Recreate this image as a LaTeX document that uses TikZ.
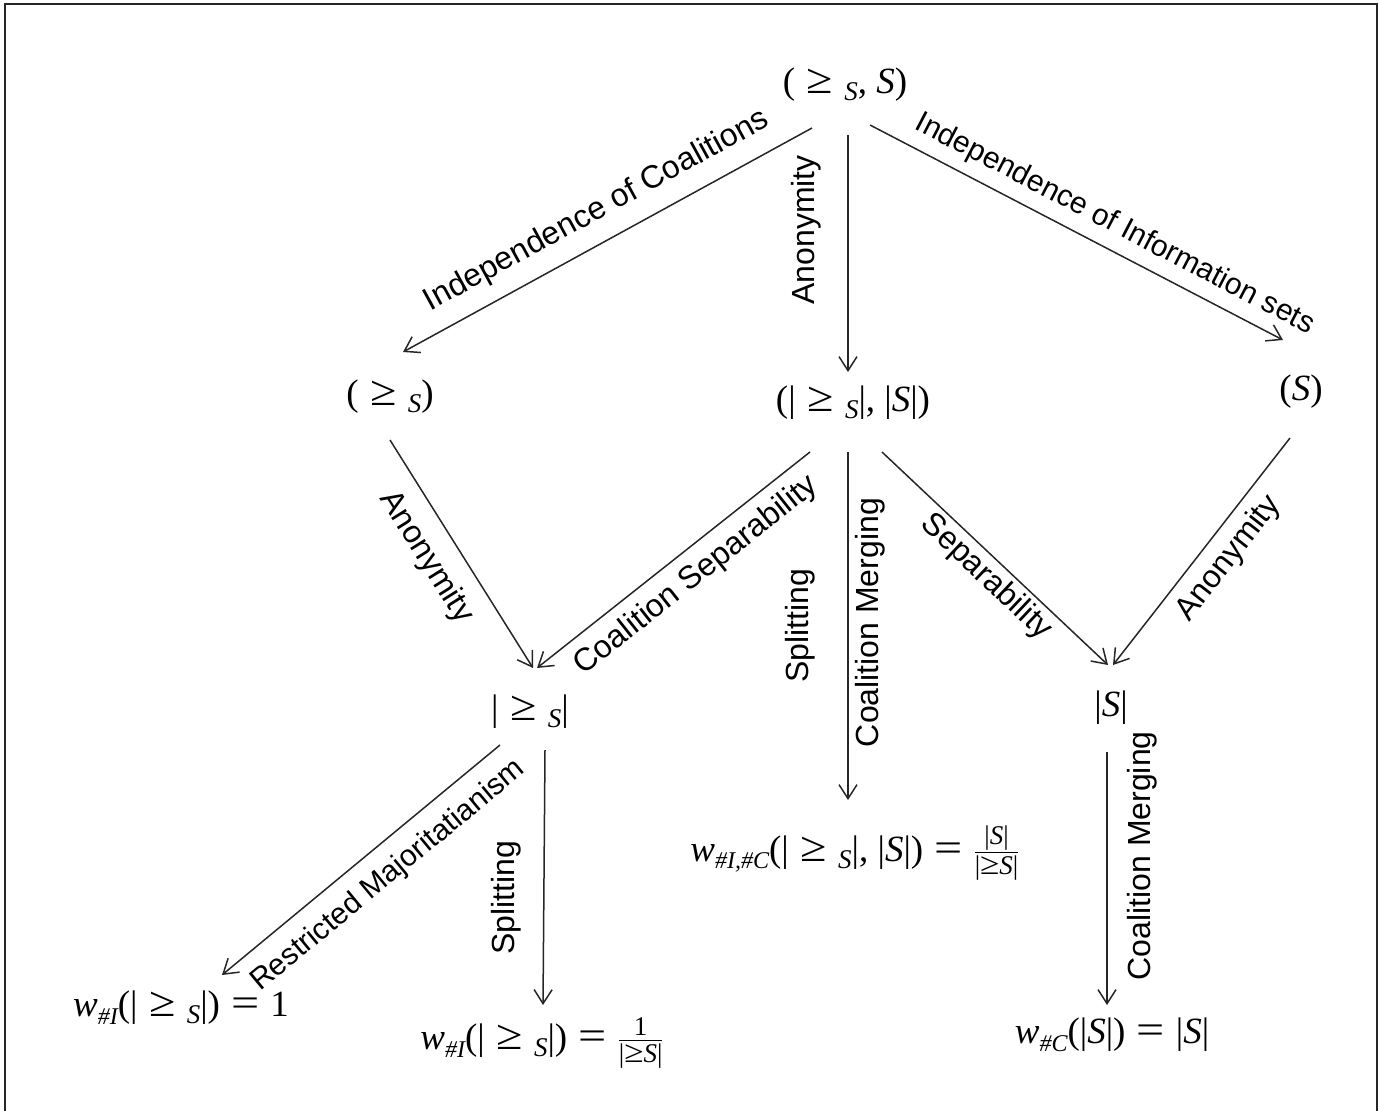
\RequirePackage{fix-cm}
\documentclass[tikz,border=0pt]{standalone}
\usepackage{amsmath}
\usepackage{graphicx}
\usepackage{fontspec}
\newfontfamily\labfont{Liberation Sans}
\newfontfamily\mfont{Liberation Serif}
\usetikzlibrary{arrows.meta}
\newcommand{\bge}{\scalebox{1.3}[1.15]{≥}}
\newcommand{\lS}{\raisebox{-0.18em}{\fontsize{27}{27}\selectfont\itshape S}}
\newcommand{\vS}{\textit{S}}
\newcommand{\geS}{\hspace{0.32em}\bge\hspace{0.3em}\lS}
\newcommand{\eqs}{\hspace{0.3em}\scalebox{1.35}[1.1]{=}\hspace{0.3em}}
\newcommand{\wsub}[1]{\textit{w}\raisebox{-0.2em}{\fontsize{24}{24}\selectfont\itshape #1}}
\newcommand{\mfr}[2]{\ensuremath{\frac{\text{\fontsize{27}{27}\selectfont #1}}{\text{\fontsize{27}{27}\selectfont #2}}}}
\begin{document}
\begin{tikzpicture}[x=1pt,y=-1pt,
  mnode/.style={inner sep=0pt, anchor=center, font={\mfont\fontsize{37}{43}\selectfont}},
  lab/.style={inner sep=2pt, font={\labfont\fontsize{32}{38}\selectfont}},
  labs/.style={inner sep=2pt, font={\labfont\fontsize{30}{36}\selectfont}},
  arr/.style={draw=black!85, line width=1.5pt,
    -{Straight Barb[length=14pt,width=18pt,line width=1.5pt]}}]
\useasboundingbox (0,0) rectangle (1379,1111);
\draw[line width=2pt, black!85] (5,1111) -- (5,4) -- (1377,4) -- (1377,1111);

\node[mnode] (top) at (845,85) {(\geS, \vS)};
\node[mnode] (left) at (390,397) {(\geS)};
\node[mnode] (mid) at (853,403) {(|\geS|, |\vS|)};
\node[mnode] (right) at (1301,392) {(\vS)};
\node[mnode] (ll) at (530,712) {|\geS|};
\node[mnode] (lr) at (1111,708) {|\vS|};
\node[mnode] (mb) at (855,853) {\wsub{\#I,\#C}(|\geS|, |\vS|)\eqs\mfr{|\vS|}{|\bge\vS|}};
\node[mnode] (bl) at (181,1008) {\wsub{\#I}(|\geS|)\eqs1};
\node[mnode] (bm) at (542,1043) {\wsub{\#I}(|\geS|)\eqs\mfr{1}{|\bge\vS|}};
\node[mnode] (br) at (1112,1035) {\wsub{\#C}(|\vS|)\eqs|\vS|};

\draw[arr] ([shift={(-33,43)}]top.center) -- node[lab, sloped, pos=0.49, above=13pt] {Independence of Coalitions} ([shift={(13,-45)}]left.center);
\draw[arr] ([shift={(3,50)}]top.center) -- node[lab, pos=0.40, xshift=-42pt, rotate=90, anchor=center] {Anonymity} ([shift={(-5,-31)}]mid.center);
\draw[arr] ([shift={(25,40)}]top.center) -- node[labs, sloped, pos=0.565, above=8pt] {Independence of Information sets} ([shift={(-18,-52)}]right.center);
\draw[arr] ([shift={(0,43)}]left.center) -- node[lab, sloped, pos=0.44, below=14pt] {Anonymity} ([shift={(3,-44)}]ll.center);
\draw[arr] ([shift={(-43,49)}]mid.center) -- node[lab, sloped, pos=0.476, below=9pt] {Coalition Separability} ([shift={(7,-44)}]ll.center);
\draw[arr] ([shift={(-5,49)}]mid.center) --
  node[lab, pos=0.50, xshift=-48pt, rotate=90, anchor=center] {Splitting}
  node[lab, pos=0.49, xshift=22pt, rotate=90, anchor=center] {Coalition Merging}
  ([shift={(-7,-53)}]mb.center);
\draw[arr] ([shift={(29,49)}]mid.center) -- node[lab, sloped, pos=0.52, below=2pt] {Separability} ([shift={(-3,-43)}]lr.center);
\draw[arr] ([shift={(-11,46)}]right.center) -- node[lab, sloped, pos=0.46, below=8pt] {Anonymity} ([shift={(2,-43)}]lr.center);
\draw[arr] ([shift={(-30,33)}]ll.center) -- node[labs, sloped, pos=0.47, below=13pt] {Restricted Majoritatianism} ([shift={(41,-33)}]bl.center);
\draw[arr] ([shift={(15,38)}]ll.center) -- node[lab, pos=0.58, xshift=-38pt, rotate=90, anchor=center] {Splitting} ([shift={(1,-38)}]bm.center);
\draw[arr] ([shift={(-4,44)}]lr.center) -- node[lab, pos=0.41, xshift=35pt, rotate=90, anchor=center] {Coalition Merging} ([shift={(-5,-30)}]br.center);
\end{tikzpicture}
\end{document}
